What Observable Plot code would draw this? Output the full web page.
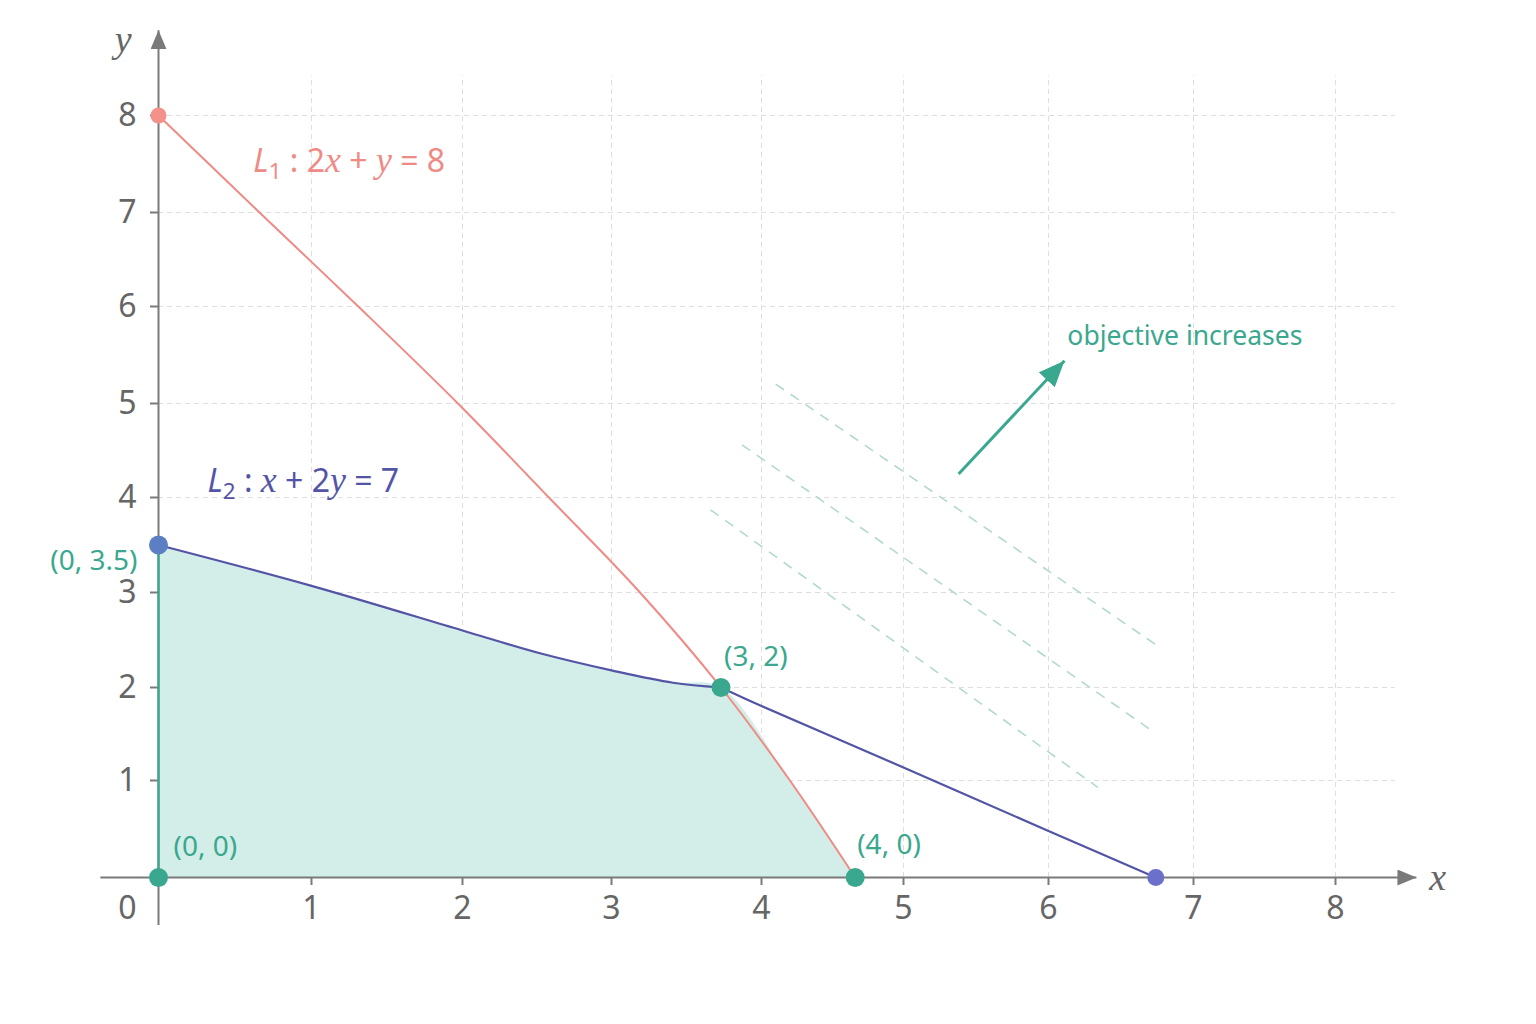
<!DOCTYPE html>
<html>
<head>
<meta charset="utf-8">
<script src="https://cdn.jsdelivr.net/npm/d3@7"></script>
<script src="https://cdn.jsdelivr.net/npm/@observablehq/plot@0.6"></script>
<style>
  html, body { margin: 0; padding: 0; background: #ffffff; }
  #chart svg { display: block; }
</style>
</head>
<body>
<div id="chart"></div>
<script>
// ---------- data ----------
const scaleDomain = [0, 1, 2, 3, 4, 5, 6, 7, 8];
const xTickValues = [1, 2, 3, 4, 5, 6, 7, 8];
const yTickValues = [1, 2, 3, 4, 5, 6, 7, 8];
const originLabel = ["0"];

// constraint L1 : 2x + y = 8 (as drawn)
const redX = [0, 0.66, 1.31, 1.97, 2.58, 3.19, 3.73, 4.20, 4.66];
const redY = [8, 7, 6, 5, 4, 3, 2, 1, 0];

// constraint L2 : x + 2y = 7 (as drawn), left and right of the vertex
const blueLeftX = [0, 1, 2, 2.52, 3, 3.41, 3.73];
const blueLeftY = [3.5, 3.07, 2.6, 2.36, 2.18, 2.05, 2];
const blueRightX = [3.73, 4, 5, 6, 6.74];
const blueRightY = [2, 1.8, 1.14, 0.48, 0];

// feasible region upper boundary
const regionX = [0, 1, 2, 2.52, 3, 3.41, 3.73, 4.20, 4.66];
const regionY = [3.5, 3.07, 2.6, 2.36, 2.18, 2.05, 2, 1, 0];

// vertices
const vertexX = [0, 0, 3.73, 4.66];
const vertexY = [3.5, 0, 2, 0];
const vertexLabels = ["(0, 3.5)", "(0, 0)", "(3, 2)", "(4, 0)"];

// intercept points
const redEndX = [0], redEndY = [8];
const blueEndX = [6.74], blueEndY = [0];

// objective level lines
const objX1 = [4.10, 3.87, 3.66];
const objY1 = [5.20, 4.56, 3.87];
const objX2 = [6.77, 6.70, 6.34];
const objY2 = [2.42, 1.55, 0.93];

// objective direction arrow
const arrowX1 = [5.38], arrowY1 = [4.25], arrowX2 = [6.11], arrowY2 = [5.44];

// text annotations
const l1Label = "L1 : 2x + y = 8";
const l2Label = "L2 : x + 2y = 7";
const l1Pos = [0.62, 7.52];
const l2Pos = [0.32, 4.17];
const objLabel = "objective increases";
const objLabelPos = [6.13, 5.69];

// axis extents
const xAxisExtent = [-0.38, 8.57];
const yAxisExtent = [-0.49, 8.88];
const gridTop = 8.41, gridRight = 8.42;
const axisLabelX = { text: "x", x: 8.72, y: 0 };
const axisLabelY = { text: "y", x: -0.23, y: 8.78 };

// ---------- layout / styles ----------
const xRangePx = [158, 311, 462, 611, 761, 903, 1048, 1193, 1335];
const yRangePx = [877, 780, 687, 592, 497, 403, 306, 212, 115];

const RED = "#f08a85";
const BLUE = "#5354a6";
const BLUE_PT = "#5b7fc2";
const BLUE_END = "#6b70cb";
const TEAL = "#3aa88e";
const FILL = "#d3eee8";
const AXIS = "#7a7a7a";
const GRID = "#dedede";
const OBJ = "#b3d9cf";
const TICKTXT = "#666666";
const SANS = "'Noto Sans', 'Open Sans', sans-serif";
const SERIF = "'Liberation Serif', 'DejaVu Serif', serif";

const idx = n => d3.range(n);

const plot = Plot.plot({
  width: 1536,
  height: 1024,
  margin: 0,
  style: { background: "#ffffff", overflow: "visible" },
  x: { type: "linear", domain: scaleDomain, range: xRangePx, axis: null },
  y: { type: "linear", domain: scaleDomain, range: yRangePx, axis: null },
  marks: [
    // grid
    Plot.ruleX(xTickValues, { x: d => d, y1: 0, y2: gridTop, stroke: GRID, strokeWidth: 1, strokeDasharray: "5,4" }),
    Plot.ruleY(yTickValues, { y: d => d, x1: 0, x2: gridRight, stroke: GRID, strokeWidth: 1, strokeDasharray: "5,4" }),

    // feasible region
    Plot.area(idx(regionX.length), {
      x1: i => regionX[i], y1: 0, y2: i => regionY[i],
      curve: "catmull-rom", fill: FILL, fillOpacity: 1
    }),

    // objective level lines
    Plot.link(idx(objX1.length), {
      x1: i => objX1[i], y1: i => objY1[i], x2: i => objX2[i], y2: i => objY2[i],
      stroke: OBJ, strokeWidth: 1.6, strokeDasharray: "10,8"
    }),

    // axes
    Plot.link([0], { x1: xAxisExtent[0], x2: xAxisExtent[1], y1: 0, y2: 0, stroke: AXIS, strokeWidth: 2, markerEnd: "arrow" }),
    Plot.link([0], { x1: 0, x2: 0, y1: yAxisExtent[0], y2: yAxisExtent[1], stroke: AXIS, strokeWidth: 2, markerEnd: "arrow" }),
    Plot.ruleX(xTickValues, { x: d => d, y1: 0, y2: 0, insetBottom: -8, stroke: AXIS, strokeWidth: 2 }),
    Plot.ruleY(yTickValues, { y: d => d, x1: 0, x2: 0, insetLeft: -8, stroke: AXIS, strokeWidth: 2 }),

    // tick labels
    Plot.text(xTickValues, { x: d => d, y: 0, text: d => String(d), dy: 31, fontSize: 32, fill: TICKTXT, fontFamily: SANS }),
    Plot.text(yTickValues, { x: 0, y: d => d, text: d => String(d), dx: -22, textAnchor: "end", fontSize: 32, fill: TICKTXT, fontFamily: SANS }),
    Plot.text(originLabel, { x: 0, y: 0, text: d => d, dx: -22, dy: 31, textAnchor: "end", fontSize: 32, fill: TICKTXT, fontFamily: SANS }),

    // axis labels
    Plot.text([axisLabelX], { x: "x", y: "y", text: "text", fontSize: 38, fontStyle: "italic", fontFamily: SERIF, fill: "#666" }),
    Plot.text([axisLabelY], { x: "x", y: "y", text: "text", fontSize: 38, fontStyle: "italic", fontFamily: SERIF, fill: "#666" }),

    // left edge of region along y axis
    Plot.ruleX([0], { x: d => d, y1: 0, y2: vertexY[0], stroke: TEAL, strokeWidth: 2.2 }),

    // constraint lines
    Plot.line(idx(redX.length), { x: i => redX[i], y: i => redY[i], curve: "catmull-rom", stroke: RED, strokeWidth: 2 }),
    Plot.line(idx(blueLeftX.length), { x: i => blueLeftX[i], y: i => blueLeftY[i], curve: "catmull-rom", stroke: BLUE, strokeWidth: 2.2 }),
    Plot.line(idx(blueRightX.length), { x: i => blueRightX[i], y: i => blueRightY[i], curve: "catmull-rom", stroke: BLUE, strokeWidth: 2.2 }),

    // objective arrow
    Plot.link([0], { x1: arrowX1[0], y1: arrowY1[0], x2: arrowX2[0], y2: arrowY2[0], stroke: TEAL, strokeWidth: 3, markerEnd: "arrow" }),

    // points
    Plot.dot(idx(redEndX.length), { x: i => redEndX[i], y: i => redEndY[i], r: 8, fill: "#f4918b" }),
    Plot.dot(idx(blueEndX.length), { x: i => blueEndX[i], y: i => blueEndY[i], r: 8.5, fill: BLUE_END }),
    Plot.dot([0], { x: vertexX[0], y: vertexY[0], r: 9.5, fill: BLUE_PT }),
    Plot.dot(idx(vertexX.length).slice(1), { x: i => vertexX[i], y: i => vertexY[i], r: 9.5, fill: TEAL }),

    // vertex labels
    Plot.text([0], { x: vertexX[0], y: vertexY[0], text: () => vertexLabels[0], dx: -21, dy: 16, textAnchor: "end", fontSize: 28, fill: TEAL, fontFamily: SANS }),
    Plot.text([1], { x: vertexX[1], y: vertexY[1], text: () => vertexLabels[1], dx: 15, dy: -30, textAnchor: "start", fontSize: 28, fill: TEAL, fontFamily: SANS }),
    Plot.text([2], { x: vertexX[2], y: vertexY[2], text: () => vertexLabels[2], dx: 3, dy: -30, textAnchor: "start", fontSize: 28, fill: TEAL, fontFamily: SANS }),
    Plot.text([3], { x: vertexX[3], y: vertexY[3], text: () => vertexLabels[3], dx: 2, dy: -32, textAnchor: "start", fontSize: 28, fill: TEAL, fontFamily: SANS }),

    // constraint labels
    Plot.text([l1Label], { x: l1Pos[0], y: l1Pos[1], text: d => d, textAnchor: "start", fontSize: 32, fill: RED, fontFamily: SANS }),
    Plot.text([l2Label], { x: l2Pos[0], y: l2Pos[1], text: d => d, textAnchor: "start", fontSize: 32, fill: BLUE, fontFamily: SANS }),

    // objective label
    Plot.text([objLabel], { x: objLabelPos[0], y: objLabelPos[1], text: d => d, textAnchor: "start", fontSize: 26.5, fill: TEAL, fontFamily: SANS })
  ]
});

// ---------- post-processing: filled arrowheads ----------
const NS = "http://www.w3.org/2000/svg";
plot.querySelectorAll("marker").forEach(m => {
  const c = (m.getAttribute("stroke") || AXIS).toLowerCase();
  const big = c === TEAL.toLowerCase();
  const L = big ? 26 : 19, W = big ? 22 : 16;
  m.setAttribute("viewBox", "-10 -5 10 10");
  m.setAttribute("markerUnits", "userSpaceOnUse");
  m.setAttribute("markerWidth", L);
  m.setAttribute("markerHeight", W);
  m.setAttribute("preserveAspectRatio", "none");
  m.setAttribute("refX", 0);
  m.setAttribute("refY", 0);
  m.setAttribute("fill", c);
  m.setAttribute("stroke", "none");
  while (m.firstChild) m.removeChild(m.firstChild);
  const p = document.createElementNS(NS, "path");
  p.setAttribute("d", "M-10,-5L0,0L-10,5Z");
  m.appendChild(p);
});

// ---------- post-processing: math formatting of constraint labels ----------
function mathify(textEl) {
  const s = textEl.textContent;
  while (textEl.firstChild) textEl.removeChild(textEl.firstChild);
  let prev = "";
  let shifted = false;
  for (const ch of s) {
    const t = document.createElementNS(NS, "tspan");
    t.textContent = ch;
    if (prev === "L" && /[0-9]/.test(ch)) {
      t.setAttribute("font-size", "70%");
      t.setAttribute("dy", "7");
      shifted = true;
    } else {
      if (shifted) { t.setAttribute("dy", "-7"); shifted = false; }
      if (ch === "L") { t.setAttribute("font-style", "italic"); }
      else if (ch === "x" || ch === "y") {
        t.setAttribute("font-style", "italic");
        t.setAttribute("font-family", SERIF);
        t.setAttribute("font-size", "112%");
      }
    }
    textEl.appendChild(t);
    prev = ch;
  }
}
plot.querySelectorAll("text").forEach(t => {
  const s = t.textContent;
  if (s === l1Label || s === l2Label) mathify(t);
});

document.getElementById("chart").appendChild(plot);
</script>
</body>
</html>
